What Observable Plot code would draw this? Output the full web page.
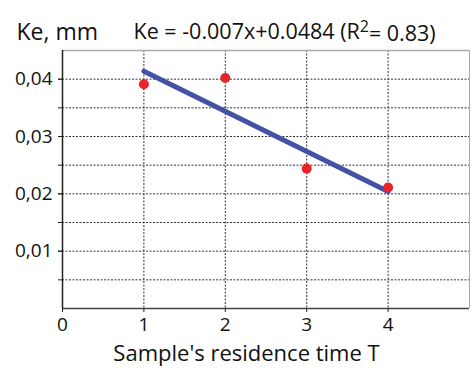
<!DOCTYPE html>
<html><head><meta charset="utf-8">
<script src="https://cdn.jsdelivr.net/npm/d3@7"></script>
<script src="https://cdn.jsdelivr.net/npm/@observablehq/plot@0.6"></script>
<style>body{margin:0;background:#fff}svg{font-family:"Open Sans",sans-serif}</style>
</head><body><div id="chart"></div>
<script>
const times = [1, 2, 3, 4];
const ke = [0.0391, 0.0402, 0.0244, 0.0211];
const slope = -0.007, intercept = 0.0484;
const xTicks = [0, 1, 2, 3, 4];
const yLabelTicks = [0.01, 0.02, 0.03, 0.04];
const yGrid = [0.005, 0.01, 0.015, 0.02, 0.025, 0.03, 0.035, 0.04];
const xGrid = [1, 2, 3, 4];
const titleText = "Ke, mm";
const eqText = "Ke = -0.007x+0.0484 (R";
const xLabel = "Sample's residence time T";

const pts = times.map((t, i) => ({t, k: ke[i]}));
const trend = [1, 4].map(t => ({t, k: slope * t + intercept}));
const fmt = d => String(d).replace(".", ",");

const plot = Plot.plot({
  width: 472, height: 372,
  marginLeft: 62, marginRight: 3, marginTop: 50, marginBottom: 64,
  x: {type: "linear", domain: [0, 5]},
  y: {type: "linear", domain: [0, 0.045]},
  style: {fontFamily: "Open Sans, sans-serif", background: "#fff"},
  marks: [
    Plot.ruleY(yGrid, {stroke: "#333", strokeDasharray: "2,1.5", strokeWidth: 1}),
    Plot.ruleX(xGrid, {stroke: "#333", strokeDasharray: "2,1.5", strokeWidth: 1}),
    Plot.ruleY([0.045], {stroke: "#aaa", strokeWidth: 1.5}),
    Plot.ruleX([5], {stroke: "#aaa", strokeWidth: 1}),
    Plot.ruleX([0], {stroke: "#222", strokeWidth: 1.5}),
    Plot.ruleY([0], {stroke: "#444", strokeWidth: 1.5}),
    Plot.axisY(yGrid, {tickFormat: () => "", tickSize: 4, stroke: "#222", label: null}),
    Plot.axisY(yLabelTicks, {tickFormat: fmt, tickSize: 4, fontSize: 19, tickPadding: 6, fill: "#111", stroke: "#222", label: null}),
    Plot.axisX(xTicks, {tickSize: 4, fontSize: 19, tickPadding: 5, fill: "#111", stroke: "#222", label: null}),
    Plot.line(trend, {x: "t", y: "k", stroke: "#4452a6", strokeWidth: 5}),
    Plot.dot(pts, {x: "t", y: "k", r: 5, fill: "#e8232a", stroke: "none"}),
    Plot.text([titleText], {frameAnchor: "top-left", dx: -46, dy: -27, fontSize: 23, fill: "#111", textAnchor: "start"}),
    Plot.text([eqText], {frameAnchor: "top-left", dx: 71, dy: -27, fontSize: 21.5, fill: "#111", textAnchor: "start"}),
    Plot.text([xLabel], {frameAnchor: "bottom-left", dx: 184, dy: 52, fontSize: 22, fill: "#111", textAnchor: "middle"})
  ]
});
document.getElementById("chart").appendChild(plot);
const texts = plot.querySelectorAll("text");
texts.forEach(t => {
  if (t.textContent === eqText) {
    const sup = document.createElementNS("http://www.w3.org/2000/svg", "tspan");
    sup.setAttribute("dy", "-0.4em"); sup.setAttribute("font-size", "16");
    sup.textContent = "2";
    const rest = document.createElementNS("http://www.w3.org/2000/svg", "tspan");
    rest.setAttribute("dy", "0.4em");
    rest.textContent = "= 0.83)";
    const target = t.querySelector("tspan") || t;
    target.appendChild(sup); target.appendChild(rest);
  }
});
</script></body></html>
